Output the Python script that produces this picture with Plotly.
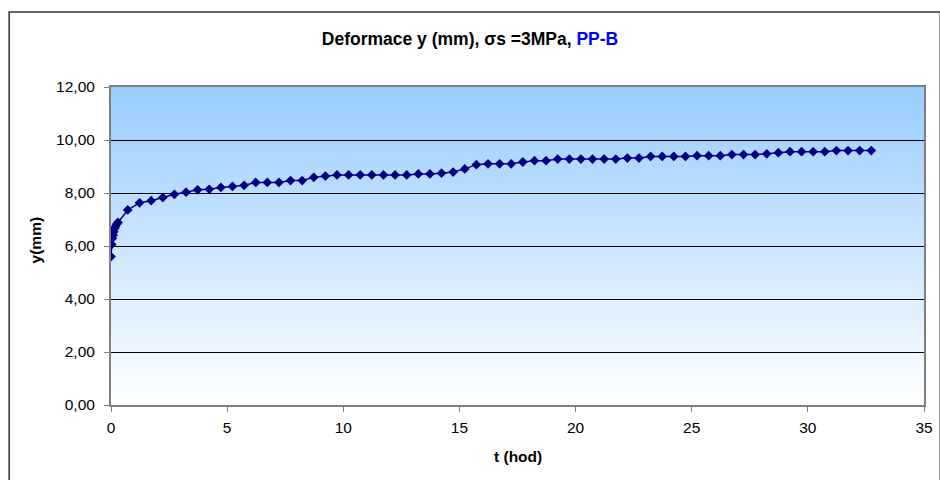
import base64
import plotly.graph_objects as go

# Data
t_hod = [0, 0.03, 0.06, 0.09, 0.12, 0.16, 0.20, 0.25, 0.30, 0.72,
         1.23, 1.73, 2.23, 2.73, 3.23, 3.73, 4.23, 4.73, 5.23, 5.73,
         6.23, 6.73, 7.23, 7.73, 8.23, 8.73, 9.23, 9.73, 10.23, 10.73,
         11.23, 11.73, 12.23, 12.73, 13.23, 13.73, 14.23, 14.73, 15.23, 15.73,
         16.23, 16.73, 17.23, 17.73, 18.23, 18.73, 19.23, 19.73, 20.23, 20.73,
         21.23, 21.73, 22.23, 22.73, 23.23, 23.73, 24.23, 24.73, 25.23, 25.73,
         26.23, 26.73, 27.23, 27.73, 28.23, 28.73, 29.23, 29.73, 30.23, 30.73,
         31.23, 31.73, 32.23, 32.73]
y_mm = [5.60, 6.06, 6.29, 6.41, 6.54, 6.67, 6.75, 6.83, 6.89, 7.36,
        7.63, 7.71, 7.83, 7.95, 8.03, 8.12, 8.14, 8.21, 8.25, 8.29,
        8.40, 8.40, 8.40, 8.47, 8.47, 8.59, 8.64, 8.68, 8.68, 8.68,
        8.68, 8.68, 8.68, 8.68, 8.72, 8.72, 8.75, 8.79, 8.91, 9.07,
        9.10, 9.10, 9.10, 9.17, 9.22, 9.22, 9.28, 9.28, 9.28, 9.28,
        9.28, 9.28, 9.32, 9.32, 9.38, 9.38, 9.38, 9.38, 9.41, 9.41,
        9.41, 9.45, 9.45, 9.45, 9.48, 9.52, 9.56, 9.56, 9.56, 9.56,
        9.60, 9.60, 9.60, 9.60]

x_ticks = [0, 5, 10, 15, 20, 25, 30, 35]
y_ticks = [0, 2, 4, 6, 8, 10, 12]

FONT = "Liberation Sans, Arial, sans-serif"

svg = ('<svg xmlns="http://www.w3.org/2000/svg" width="100" height="100" '
       'preserveAspectRatio="none" viewBox="0 0 100 100">'
       '<defs><linearGradient id="g" x1="0" y1="0" x2="0" y2="1">'
       '<stop offset="0" stop-color="#99CCFF"/>'
       '<stop offset="1" stop-color="#FFFFFF"/>'
       '</linearGradient></defs>'
       '<rect x="0" y="0" width="100" height="100" fill="url(#g)"/></svg>')
svg_uri = "data:image/svg+xml;base64," + base64.b64encode(svg.encode()).decode()

fig = go.Figure()
fig.add_trace(go.Scatter(
    x=t_hod, y=y_mm, mode="lines+markers",
    line=dict(color="#000080", width=1.5),
    marker=dict(symbol="diamond", size=7.5, color="#000080"),
    showlegend=False,
))

fig.update_layout(
    width=940, height=480,
    margin=dict(l=111, r=7, t=87, b=75),
    paper_bgcolor="white",
    plot_bgcolor="rgba(0,0,0,0)",
    separators=",.",
    font=dict(family=FONT, size=16, color="black"),
    title=dict(
        text="<b>Deformace y (mm), σs =3MPa, <span style='color:#0000FF'>PP-B</span></b>",
        x=0.5, xref="container", xanchor="center",
        y=0.919, yref="container", yanchor="middle",
        font=dict(family=FONT, size=17.5, color="black"),
    ),
    images=[dict(source=svg_uri, xref="paper", yref="paper", x=0, y=1,
                 sizex=1, sizey=1, sizing="stretch", xanchor="left",
                 yanchor="top", layer="below")],
    shapes=[dict(type="rect", xref="paper", yref="paper",
                 x0=-0.1253, x1=1.02, y0=-0.26, y1=1.2358,
                 line=dict(color="#333333", width=1.5), layer="below")],
    annotations=[
        dict(text="<b>y(mm)</b>", xref="paper", yref="paper",
             x=-0.0925, y=0.52, xanchor="center", yanchor="middle",
             textangle=-90, showarrow=False, font=dict(size=15.5)),
        dict(text="<b>t (hod)</b>", xref="paper", yref="paper",
             x=0.5, y=-0.163, xanchor="center", yanchor="middle",
             showarrow=False, font=dict(size=15.5)),
    ],
    xaxis=dict(
        range=[0, 35], tickvals=x_ticks, ticks="outside", ticklen=5,
        tickcolor="#808080", showgrid=False, zeroline=False,
        showline=True, linecolor="#808080", linewidth=2, mirror=True,
        tickfont=dict(size=15.5), ticklabelstandoff=2,
    ),
    yaxis=dict(
        range=[0, 12], tickvals=y_ticks, tickformat=".2f", ticks="outside",
        ticklen=5, tickcolor="#808080", showgrid=True, gridcolor="#000000",
        gridwidth=1, zeroline=False, showline=True, linecolor="#808080",
        linewidth=2, mirror=True, tickfont=dict(size=15.5),
        ticklabelstandoff=6,
    ),
)

fig.write_html("out.html")
